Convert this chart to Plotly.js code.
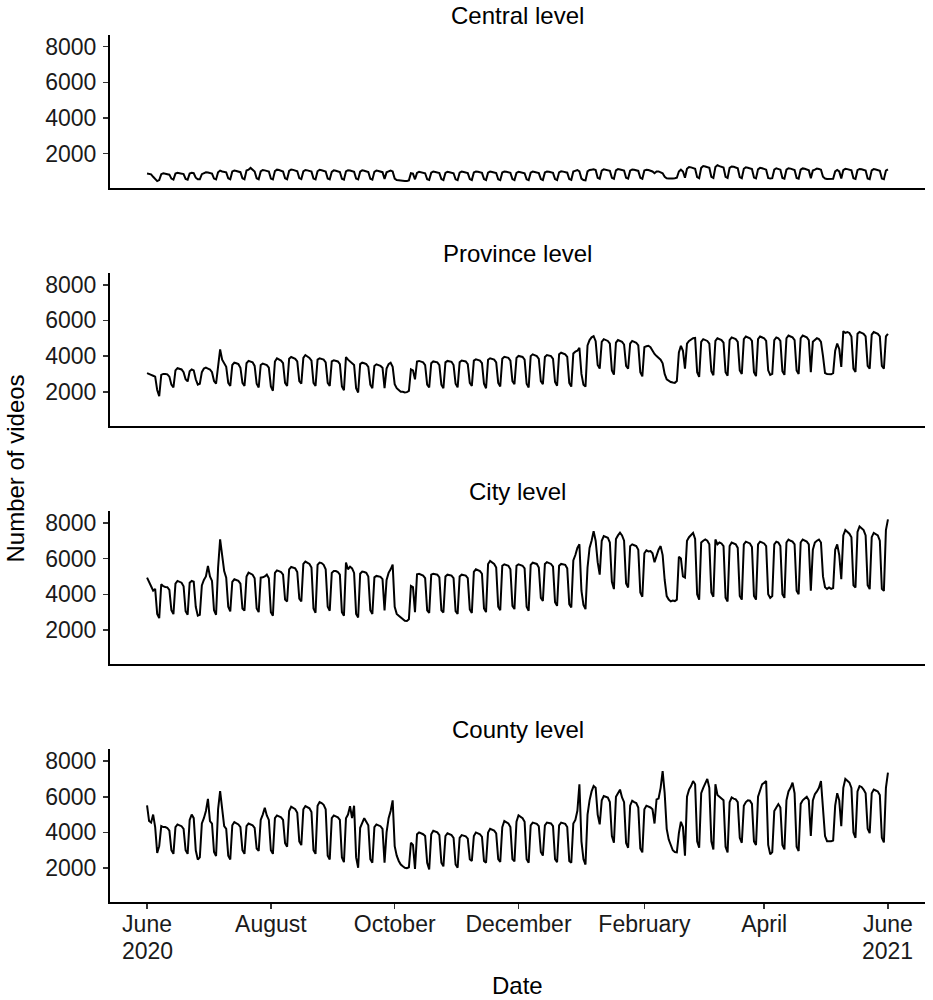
<!DOCTYPE html>
<html><head><meta charset="utf-8">
<script src="https://cdn.plot.ly/plotly-3.0.1.min.js"></script>
<style>html,body{margin:0;padding:0;background:#fff}#chart{width:933px;height:1000px}</style>
</head><body><div id="chart"></div>
<script>
const startDate = "2020-06-01";
const panelTitles = ["Central level", "Province level", "City level", "County level"];
const tickDates = ["2020-06-01","2020-08-01","2020-10-01","2020-12-01","2021-02-01","2021-04-01","2021-06-01"];
const tickLabels = ["June","August","October","December","February","April","June"];
const yearLabels = [["2020-06-01", "2020"], ["2021-06-01", "2021"]];
const yTicks = [2000, 4000, 6000, 8000];

// daily values, one row per week (Mon..Sun), from 2020-06-01 to 2021-06-01
const central = [
880,860,840,700,600,460,520,
850,900,880,870,820,600,540,
880,920,900,890,850,580,540,
880,920,900,650,560,560,850,
900,950,940,920,880,600,550,
950,1050,1000,980,950,620,560,
1000,1050,1030,1000,960,620,560,
1050,1100,1200,1080,1000,620,560,
1000,1080,1060,1040,1000,600,550,
1020,1100,1080,1050,1000,620,560,
1030,1110,1090,1060,1010,630,570,
1000,1080,1060,1040,990,600,550,
1010,1090,1070,1050,1000,610,560,
980,1060,1040,1020,970,590,540,
1000,1070,1050,1030,980,600,550,
990,1060,1040,1020,970,590,540,
980,1050,1030,1000,960,580,950,
1000,1050,1000,600,520,500,480,
470,460,470,500,900,880,560,
920,980,960,950,900,560,520,
930,990,970,950,910,570,520,
920,980,960,940,900,560,510,
930,990,970,950,910,570,520,
940,1000,980,960,920,570,520,
930,990,970,950,910,560,510,
940,1000,980,960,920,570,520,
920,980,960,940,900,560,510,
930,990,970,950,910,570,520,
940,1000,980,960,920,570,520,
950,1010,990,970,930,580,530,
1000,1050,1080,1000,600,520,500,
1000,1080,1100,1120,1080,640,590,
1050,1120,1100,1080,1040,640,590,
1060,1130,1110,1090,1050,650,600,
1040,1110,1090,1070,1030,640,590,
1050,1100,1080,1050,1000,900,1000,
1000,950,900,700,620,600,580,
600,620,650,1000,1100,1000,650,
1150,1250,1230,1200,1150,680,620,
1200,1300,1280,1250,1200,700,640,
1250,1350,1300,1280,1220,700,640,
1200,1280,1260,1240,1180,680,620,
1150,1230,1210,1190,1140,660,610,
1120,1200,1180,1160,1100,640,600,
620,1100,1180,1160,1100,640,600,
1100,1180,1160,1140,1080,630,590,
1100,1170,1150,1130,1070,620,1050,
1100,1160,1140,1100,700,600,580,
580,570,590,1000,1080,1000,600,
1080,1150,1130,1110,1060,620,580,
1070,1140,1120,1100,1050,610,570,
1060,1130,1110,1090,1040,600,560,
1050,1120
];

const province = [
3050,2980,2950,2900,2850,2100,1750,
2950,3000,3000,2980,2850,2400,2240,
3200,3320,3300,3250,3100,2700,2580,
3150,3250,3200,2700,2400,2450,3100,
3300,3350,3300,3250,3100,2600,2460,
3600,4380,3800,3550,3400,2500,2330,
3500,3630,3600,3550,3350,2500,2330,
3600,3730,3700,3650,3450,2450,2240,
3500,3580,3550,3500,3350,2300,2055,
3700,3875,3800,3750,3600,2500,2330,
3850,3950,3900,3850,3700,2600,2460,
3900,4060,4000,3900,3750,2500,2330,
3800,3875,3850,3800,3650,2500,2330,
3700,3760,3750,3700,3550,2300,2090,
3950,3800,3700,3650,3500,2200,1960,
3550,3630,3600,3550,3400,2400,2200,
3450,3540,3500,3450,3350,2200,3300,
3550,3630,3400,2430,2200,2100,2000,
2000,1960,1980,2050,3260,3200,2700,
3700,3730,3700,3650,3500,2400,2240,
3600,3700,3680,3650,3500,2400,2200,
3650,3730,3700,3680,3500,2450,2250,
3650,3750,3720,3700,3550,2500,2330,
3750,3820,3800,3750,3600,2450,2200,
3800,3880,3850,3800,3650,2500,2300,
3850,3960,3930,3900,3750,2600,2430,
3900,4010,3980,3950,3800,2450,2240,
4000,4100,4050,4000,3850,2600,2430,
3950,4060,4050,4000,3850,2550,2340,
4100,4190,4150,4100,3950,2500,2290,
4150,4250,4300,4470,3000,2400,2290,
4600,4900,5050,5120,4840,3500,3300,
4800,4950,4900,4850,4700,3200,2960,
4750,4900,4850,4800,4650,3450,3290,
4700,4850,4800,4750,4600,3100,2860,
4500,4550,4580,4500,4300,4120,4000,
3900,3800,3600,3000,2700,2600,2550,
2520,2500,2600,4200,4580,4300,3300,
4700,4850,4950,5000,5020,3100,2830,
4800,4950,4900,4850,4700,3150,2930,
4850,5000,4950,4900,4750,3100,2900,
4900,5050,5000,4950,4800,3200,3000,
4950,5100,5050,5000,4850,3100,2880,
4950,5100,5050,5000,4850,3200,2950,
3000,4900,5050,5000,4850,3150,2950,
5000,5150,5100,5050,4900,3200,3000,
5000,5150,5100,5050,4900,3100,4800,
4900,5000,4950,4800,4000,3050,3000,
3000,2980,3050,4300,4700,4400,3390,
5400,5300,5350,5300,5100,3300,3110,
5250,5350,5300,5250,5100,3450,3290,
5200,5350,5300,5250,5100,3450,3290,
5100,5250
];

const city = [
4935,4650,4450,4200,4300,2900,2660,
4560,4450,4410,4400,4250,3100,2890,
4600,4750,4700,4650,4450,3050,2850,
4650,4750,4700,3300,2800,2850,4500,
4800,5000,5585,5000,4750,3100,2850,
5500,7075,6200,5300,4935,3300,3040,
4700,4840,4800,4750,4600,3200,3080,
5000,5210,5150,5100,4900,3200,3000,
4930,4950,5000,5100,4900,3000,2800,
5200,5340,5300,5250,5100,3700,3600,
5400,5530,5500,5450,5250,3750,3600,
5700,5830,5780,5700,5500,3200,2960,
5650,5775,5750,5650,5400,3300,3080,
5200,5310,5300,5250,5100,3000,2800,
5775,5400,5550,5450,5200,2900,2700,
5150,5270,5250,5200,5000,3100,2890,
4950,5030,5000,4980,4850,3100,4800,
5200,5400,5660,3300,2900,2800,2700,
2600,2510,2500,2600,4470,4400,3000,
5120,5150,5100,5050,4900,3100,2950,
5100,5150,5120,5100,4950,3100,2980,
5000,5100,5080,5050,4900,3050,2900,
5000,5100,5080,5050,4900,3150,2950,
5250,5400,5350,5300,5150,3200,3000,
5700,5870,5800,5700,5500,3300,3100,
5600,5680,5650,5600,5400,3350,3170,
5600,5680,5650,5600,5450,3300,3080,
5650,5770,5750,5700,5500,3800,3630,
5700,5800,5770,5700,5550,3550,3350,
5600,5700,5680,5650,5450,3450,3260,
5900,6200,6600,6800,4200,3400,3170,
5500,6600,7000,7540,7000,5800,5100,
7000,7260,7200,7170,6900,4700,4290,
7100,7300,7450,7300,7000,4600,4380,
6700,6800,6750,6700,6500,4100,3860,
6300,6460,6400,6420,6300,5800,6200,
6500,6700,6200,4800,3900,3700,3600,
3650,3620,3700,6100,6000,5000,4935,
7000,7200,7300,7440,7100,4000,3700,
6900,7000,7070,7000,6800,4100,3860,
7070,6800,6900,6850,6700,3800,3600,
6700,6900,6850,6800,6600,3900,3700,
6800,6950,6900,6850,6650,3900,3700,
6800,6950,6900,6850,6700,4000,3800,
3900,6800,6950,6900,6700,4000,3800,
6900,7070,7000,6950,6800,4200,4000,
6900,7070,7000,6950,6800,4200,6500,
6900,7000,7070,6900,5000,4400,4300,
4380,4300,4350,6500,6800,6200,4840,
7300,7600,7500,7400,7200,4500,4380,
7500,7800,7700,7600,7300,4500,4290,
7200,7440,7350,7300,7000,4300,4190,
7600,8200
];

const county = [
5515,4640,4550,5000,4300,2850,3230,
4355,4300,4300,4250,4100,3000,2800,
4300,4450,4400,4350,4200,3000,2800,
4700,5000,4800,3000,2480,2600,4500,
4800,5200,5880,4640,4500,2900,2680,
5300,6320,5200,4355,4200,2700,2480,
4400,4580,4500,4450,4300,3000,2800,
4350,4500,4450,4400,4250,3100,2960,
4700,5000,5380,4950,4700,3000,2800,
4800,4950,4900,4850,4700,3400,3200,
5200,5440,5350,5300,5100,3500,3290,
5300,5475,5400,5350,5150,3000,2800,
5500,5700,5650,5550,5300,2700,2480,
4800,4950,4900,4850,4700,2600,2330,
4800,5000,5475,4800,5500,2600,2020,
4260,4500,4800,4600,4400,2500,2300,
4300,4450,4400,4350,4200,2300,4000,
4800,5200,5800,3234,2700,2400,2200,
2100,2020,2000,2050,3420,3300,1950,
3900,4000,3950,3900,3800,2300,1925,
3900,4090,4050,4000,3850,2300,2100,
3800,3950,3900,3850,3700,2200,2020,
3700,3850,3800,3780,3650,2500,2400,
3800,4000,3950,3900,3750,2400,2300,
4000,4200,4150,4100,3950,2500,2350,
4300,4640,4550,4500,4300,2500,2380,
4600,4960,4900,4800,4600,2500,2300,
4400,4550,4500,4480,4350,2900,2700,
4400,4550,4520,4500,4350,2500,2330,
4400,4550,4520,4480,4300,2400,2300,
4500,4700,5215,6700,3500,2500,2200,
5000,5800,6300,6600,6500,5000,4450,
5800,6040,6000,5950,5700,3800,3420,
6000,6200,6400,5960,5700,3400,3140,
5500,5780,5700,5650,5400,3100,2880,
5300,5500,5450,5400,5300,4500,5850,
5900,6500,7440,6200,4200,3600,3300,
3000,2900,2880,3960,4600,4300,2700,
6000,6400,6600,6880,6700,3500,3140,
6200,6500,6800,7000,6500,3500,3050,
6700,6100,6000,5950,5800,3200,2880,
5700,5960,5900,5850,5700,3700,3420,
5500,5700,5800,5780,5600,3500,3300,
6000,6400,6700,6780,6880,3300,2780,
2900,5200,5400,5590,5400,3300,3050,
5800,6300,6500,6790,6200,3200,2960,
5600,5800,5900,6000,5800,3800,5800,
6140,6300,6500,6880,5000,3800,3510,
3510,3500,3550,5500,6200,5800,4355,
6500,7000,6900,6800,6500,4000,3700,
6300,6600,6550,6400,6200,4200,3960,
6200,6400,6350,6300,6100,3700,3440,
6500,7350
];

function buildDates(n) {
  const out = [];
  const t0 = Date.parse(startDate + "T00:00:00Z");
  for (let i = 0; i < n; i++) out.push(new Date(t0 + i * 86400000).toISOString().slice(0, 10));
  return out;
}

const series = [central, province, city, county];
const axisIds = ["", "2", "3", "4"];
const PH = 867; // plot height in px
const H = 0.1759, G = 0.0988;
const domains = [[1 - H, 1], [1 - 2 * H - G, 1 - H - G], [H + G, 2 * H + G], [0, H]];
const xRange = ["2020-05-13 18:00", "2021-06-19 06:00"];
const yRange = [100, 8650];
const fontFam = "Liberation Sans, Arial, Helvetica, sans-serif";

const traces = series.map((vals, i) => ({
  type: "scatter", mode: "lines",
  x: buildDates(vals.length), y: vals,
  xaxis: "x" + axisIds[i], yaxis: "y" + axisIds[i],
  line: { color: "#000000", width: 2 },
  hoverinfo: "skip", showlegend: false
}));

const layout = {
  width: 933, height: 1000,
  margin: { l: 110, r: 8, t: 35, b: 98 },
  paper_bgcolor: "#ffffff", plot_bgcolor: "#ffffff",
  font: { family: fontFam, color: "#000000", size: 23 },
  showlegend: false,
  annotations: []
};

series.forEach((vals, i) => {
  const id = axisIds[i];
  const last = i === series.length - 1;
  layout["xaxis" + id] = {
    type: "date", range: xRange, domain: [0, 1], anchor: "y" + id,
    showline: true, linecolor: "#000000", linewidth: 2,
    showgrid: false, zeroline: false,
    ticks: last ? "outside" : "", ticklen: 5, tickwidth: 1.5, tickcolor: "#333333",
    showticklabels: last,
    ticklabelstandoff: -5,
    tickmode: "array", tickvals: tickDates, ticktext: tickLabels,
    tickfont: { family: fontFam, size: 23, color: "#1a1a1a" }
  };
  layout["yaxis" + id] = {
    range: yRange, domain: domains[i], anchor: "x" + id,
    showline: true, linecolor: "#000000", linewidth: 2,
    showgrid: false, zeroline: false,
    ticks: "outside", ticklen: 5, tickwidth: 1.5, tickcolor: "#333333",
    tickmode: "array", tickvals: yTicks, ticktext: yTicks.map(String),
    ticklabelstandoff: 2,
    tickfont: { family: fontFam, size: 23, color: "#1a1a1a" }
  };
  layout.annotations.push({
    text: panelTitles[i], xref: "paper", yref: "paper",
    x: 0.5, y: domains[i][1] + 20 / PH, xanchor: "center", yanchor: "middle",
    showarrow: false, font: { family: fontFam, size: 24, color: "#000000" }
  });
});

// second line of the first and last date labels
yearLabels.forEach(([d, t]) => {
  layout.annotations.push({
    text: t, xref: "x4", yref: "paper", x: d, y: -49 / PH,
    xanchor: "center", yanchor: "middle", showarrow: false,
    font: { family: fontFam, size: 23, color: "#1a1a1a" }
  });
});

layout.annotations.push({
  text: "Date", xref: "paper", yref: "paper", x: 0.5, y: -83 / PH,
  xanchor: "center", yanchor: "middle", showarrow: false,
  font: { family: fontFam, size: 24, color: "#000000" }
});
layout.annotations.push({
  text: "Number of videos", xref: "paper", yref: "paper", x: -95 / 815, y: 0.5,
  xanchor: "center", yanchor: "middle", textangle: -90, showarrow: false,
  font: { family: fontFam, size: 24, color: "#000000" }
});

Plotly.newPlot("chart", traces, layout, { staticPlot: true, displayModeBar: false });
</script>
</body></html>
